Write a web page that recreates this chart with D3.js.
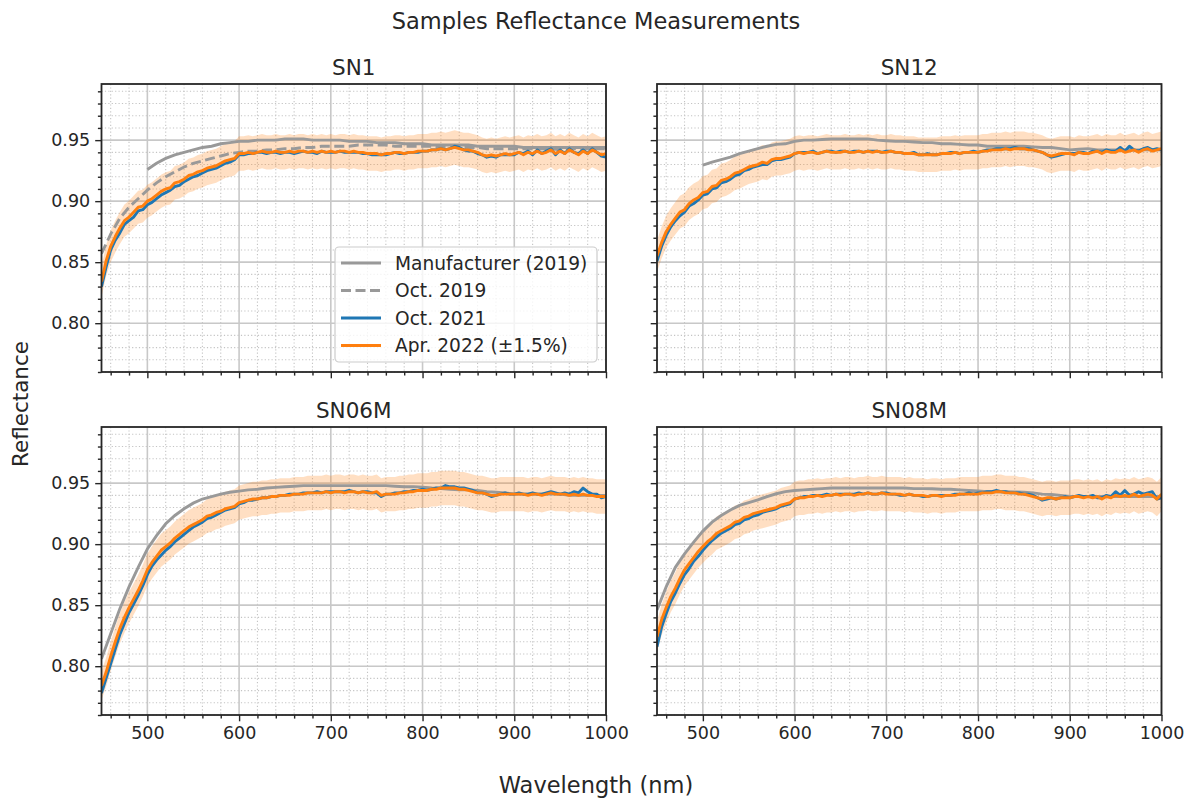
<!DOCTYPE html>
<html>
<head>
<meta charset="utf-8">
<script src="https://cdn.jsdelivr.net/npm/d3@7"></script>
<style>
  body { margin: 0; background: #fff; }
  svg { display: block; font-family: "DejaVu Sans", sans-serif; }
</style>
</head>
<body>
<div id="chart"></div>
<script>
/* Samples reflectance — 2x2 panels, D3 v7 */

const PANELS = ['SN1', 'SN12', 'SN06M', 'SN08M'];
const X_TICKS = [500, 600, 700, 800, 900, 1000];
const Y_TICKS = [0.80, 0.85, 0.90, 0.95];
const LEGEND = ['Manufacturer (2019)', 'Oct. 2019', 'Oct. 2021', 'Apr. 2022 (±1.5%)'];
const BAND = 0.015;   // ±1.5% around Apr. 2022

// measured spectra: 450..1000 nm every 5 nm
const SN1_OCT21 = [
  .830, .846, .860, .868, .874, .881, .884, .887, .892, .893,
  .897, .899, .902, .905, .907, .909, .912, .913, .916, .918,
  .920, .921, .923, .925, .926, .927, .929, .931, .932, .934,
  .938, .938, .939, .939, .940, .940, .939, .940, .940, .939,
  .940, .940, .939, .940, .941, .940, .940, .939, .941, .940,
  .940, .940, .941, .940, .940, .940, .940, .939, .939, .938,
  .938, .938, .938, .939, .940, .939, .939, .940, .940, .940,
  .941, .941, .942, .942, .943, .942, .943, .945, .944, .942,
  .941, .941, .939, .938, .936, .937, .936, .938, .938, .938,
  .938, .940, .939, .941, .938, .942, .939, .941, .943, .938,
  .942, .939, .943, .940, .939, .942, .939, .943, .940, .937,
  .936
];
const SN1_APR22 = [
  .834, .851, .863, .871, .878, .884, .887, .891, .895, .896,
  .900, .902, .905, .908, .910, .911, .915, .916, .918, .921,
  .922, .924, .925, .927, .928, .929, .931, .933, .934, .935,
  .939, .939, .940, .939, .940, .941, .940, .940, .941, .940,
  .940, .941, .940, .941, .941, .940, .941, .940, .941, .940,
  .941, .940, .941, .941, .940, .941, .940, .940, .939, .939,
  .939, .938, .939, .939, .940, .940, .939, .940, .940, .941,
  .941, .941, .942, .942, .943, .942, .943, .944, .943, .942,
  .942, .941, .940, .938, .937, .938, .937, .938, .939, .938,
  .939, .940, .938, .940, .939, .941, .939, .940, .942, .939,
  .941, .939, .942, .940, .938, .941, .939, .942, .940, .938,
  .939
];
const SN12_OCT21 = [
  .851, .863, .872, .879, .884, .888, .891, .896, .898, .901,
  .905, .906, .910, .911, .915, .916, .918, .921, .922, .925,
  .926, .928, .929, .930, .930, .933, .934, .934, .935, .936,
  .939, .940, .940, .940, .941, .939, .940, .941, .941, .940,
  .941, .941, .940, .941, .941, .940, .941, .941, .941, .940,
  .941, .941, .940, .940, .939, .939, .940, .938, .938, .939,
  .938, .938, .939, .939, .940, .940, .939, .940, .940, .941,
  .940, .941, .942, .942, .943, .943, .943, .943, .944, .943,
  .943, .943, .942, .941, .940, .938, .936, .937, .938, .939,
  .939, .939, .940, .940, .939, .941, .941, .940, .942, .941,
  .941, .944, .941, .945, .942, .941, .943, .944, .942, .943,
  .942
];
const SN12_APR22 = [
  .855, .866, .875, .881, .886, .891, .893, .898, .901, .903,
  .907, .908, .912, .913, .917, .918, .920, .923, .924, .926,
  .928, .929, .930, .932, .931, .934, .935, .935, .936, .937,
  .939, .940, .939, .940, .940, .939, .940, .941, .940, .940,
  .940, .941, .940, .940, .941, .940, .941, .940, .941, .940,
  .940, .941, .940, .940, .939, .939, .939, .938, .938, .938,
  .938, .938, .939, .939, .939, .940, .939, .940, .940, .940,
  .940, .941, .941, .942, .942, .942, .943, .942, .943, .943,
  .943, .942, .942, .941, .940, .938, .937, .938, .939, .939,
  .939, .938, .940, .939, .939, .940, .941, .939, .941, .940,
  .940, .942, .940, .941, .942, .940, .942, .943, .941, .942,
  .943
];
const SN06M_OCT21 = [
  .778, .790, .802, .814, .826, .835, .844, .851, .858, .866,
  .875, .882, .887, .891, .895, .898, .902, .905, .908, .911,
  .914, .916, .918, .921, .922, .924, .926, .928, .929, .930,
  .933, .934, .936, .936, .937, .938, .938, .939, .939, .940,
  .940, .941, .941, .941, .942, .942, .942, .943, .942, .943,
  .943, .943, .943, .943, .944, .943, .942, .943, .943, .942,
  .942, .939, .941, .941, .942, .942, .943, .943, .944, .944,
  .945, .944, .945, .946, .946, .948, .947, .947, .946, .946,
  .945, .944, .942, .942, .941, .939, .940, .941, .942, .941,
  .941, .942, .941, .941, .942, .941, .941, .942, .943, .942,
  .941, .942, .941, .943, .942, .946, .943, .941, .941, .938,
  .939
];
const SN06M_APR22 = [
  .784, .795, .808, .820, .831, .840, .848, .855, .862, .870,
  .879, .885, .890, .895, .898, .901, .905, .908, .911, .914,
  .916, .918, .920, .923, .924, .926, .927, .929, .930, .931,
  .934, .935, .936, .937, .937, .938, .938, .939, .939, .940,
  .940, .940, .941, .941, .941, .942, .942, .942, .942, .943,
  .942, .943, .943, .942, .943, .943, .942, .943, .942, .942,
  .943, .940, .941, .941, .941, .942, .942, .943, .943, .944,
  .944, .944, .945, .945, .946, .946, .946, .946, .945, .945,
  .944, .943, .942, .942, .941, .940, .940, .941, .941, .941,
  .941, .941, .941, .940, .941, .941, .940, .941, .942, .941,
  .941, .941, .940, .941, .940, .941, .940, .940, .939, .939,
  .939
];
const SN08M_OCT21 = [
  .816, .832, .843, .853, .860, .868, .875, .880, .886, .890,
  .895, .899, .903, .906, .909, .911, .913, .916, .917, .920,
  .921, .923, .924, .926, .927, .928, .929, .931, .932, .933,
  .937, .938, .939, .939, .940, .940, .940, .941, .940, .941,
  .941, .941, .941, .941, .942, .941, .942, .941, .941, .942,
  .942, .941, .941, .940, .940, .941, .940, .940, .939, .939,
  .940, .940, .940, .940, .940, .941, .941, .941, .942, .941,
  .942, .942, .943, .943, .944, .943, .943, .942, .942, .942,
  .941, .941, .940, .938, .936, .937, .938, .937, .938, .939,
  .938, .939, .940, .939, .939, .940, .938, .938, .940, .939,
  .943, .940, .944, .940, .941, .943, .941, .942, .943, .937,
  .938
];
const SN08M_APR22 = [
  .824, .838, .848, .857, .864, .872, .879, .884, .889, .894,
  .898, .902, .905, .909, .911, .913, .915, .918, .919, .922,
  .923, .925, .926, .927, .928, .929, .930, .932, .933, .934,
  .937, .938, .938, .939, .939, .940, .939, .940, .940, .941,
  .940, .941, .941, .940, .941, .941, .942, .941, .941, .942,
  .941, .941, .941, .941, .940, .941, .940, .940, .940, .939,
  .940, .940, .939, .940, .940, .940, .941, .941, .941, .941,
  .941, .942, .942, .942, .943, .943, .942, .942, .942, .941,
  .941, .940, .939, .938, .937, .938, .938, .937, .938, .938,
  .938, .939, .939, .938, .939, .938, .939, .937, .939, .938,
  .940, .939, .940, .939, .941, .939, .940, .941, .940, .937,
  .941
];

// Oct. 2019 (SN1 only): 450..1000 nm every 10 nm
const SN1_OCT19 = [
  .857, .873, .886, .895, .902, .909, .915, .920, .924, .928,
  .931, .933, .935, .937, .939, .940, .941, .941, .942, .942,
  .943, .943, .944, .944, .945, .945, .945, .945, .946, .946,
  .946, .946, .945, .945, .945, .945, .945, .944, .944, .944,
  .944, .944, .943, .943, .943, .943, .943, .943, .943, .943,
  .942, .943, .943, .943, .943, .943
];

// manufacturer curves, every 10 nm (SN1/SN12 from 500 nm, SN06M/SN08M from 450 nm)
const SN1_MFR = [
  .926, .931, .935, .938, .940, .942, .944, .945, .947, .948,
  .949, .949, .950, .950, .950, .951, .951, .951, .950, .950,
  .950, .950, .949, .949, .949, .948, .948, .948, .947, .947,
  .947, .946, .946, .946, .946, .946, .945, .945, .945, .945,
  .945, .944, .944, .944, .944, .944, .944, .944, .944, .944,
  .944
];
const SN12_MFR = [
  .9295, .932, .934, .936, .939, .941, .943, .945, .9465, .947,
  .949, .950, .950, .9505, .951, .951, .951, .951, .951, .950,
  .9495, .949, .949, .9485, .948, .948, .947, .947, .9465, .946,
  .946, .945, .945, .945, .945, .945, .9445, .944, .944, .943,
  .942, .9425, .943, .942, .942, .942, .942, .942, .942, .942,
  .942
];
const SN06M_MFR = [
  .806, .8265, .847, .865, .881, .896, .907, .9167, .9235, .929,
  .9336, .937, .939, .941, .9425, .9435, .9445, .945, .946, .9465,
  .947, .9475, .948, .948, .948, .948, .948, .948, .948, .948,
  .948, .948, .9475, .947, .947, .9467, .946, .9455, .945, .9445,
  .9445, .944, .943, .9425, .942, .941, .941, .941, .941, .941,
  .941, .940, .940, .940, .940, .940
];
const SN08M_MFR = [
  .846, .865, .881, .892, .9016, .9107, .918, .9235, .928, .9317,
  .934, .9363, .939, .9413, .943, .944, .9445, .945, .9455, .946,
  .946, .946, .946, .946, .946, .946, .946, .946, .9455, .9455,
  .9454, .945, .945, .9445, .944, .9435, .943, .943, .943, .9428,
  .9426, .942, .941, .9407, .940, .939, .939, .939, .939, .939,
  .939, .939, .939, .939, .939, .939
];

const pts = (start, step, vals) => vals.map((v, i) => [start + i * step, v]);

const DATA = {
  SN1:   { mfr: pts(500, 10, SN1_MFR),   oct19: pts(450, 10, SN1_OCT19), oct21: pts(450, 5, SN1_OCT21),   apr22: pts(450, 5, SN1_APR22) },
  SN12:  { mfr: pts(500, 10, SN12_MFR),  oct21: pts(450, 5, SN12_OCT21),  apr22: pts(450, 5, SN12_APR22) },
  SN06M: { mfr: pts(450, 10, SN06M_MFR), oct21: pts(450, 5, SN06M_OCT21), apr22: pts(450, 5, SN06M_APR22) },
  SN08M: { mfr: pts(450, 10, SN08M_MFR), oct21: pts(450, 5, SN08M_OCT21), apr22: pts(450, 5, SN08M_APR22) },
};

const C = {
  gray: '#999999',
  blue: '#1f77b4',
  orange: '#ff7f0e',
  text: '#262626',
  grid: '#c8c8c8',
  minor: '#c4c4c4',
};

const W = 1188, H = 799;
const COLS = [[101.5, 606], [657, 1161.5]];
const ROWS = [[84, 372], [427, 715]];
const TICK_FS = 17.5, TITLE_FS = 21.5, LABEL_FS = 22.5;
const LW = 2.9;

const svg = d3.select('#chart').append('svg')
  .attr('width', W).attr('height', H)
  .attr('viewBox', `0 0 ${W} ${H}`);

const xMinor = d3.range(460, 1000, 20).filter(d => d % 100 !== 0);
const yMinor = d3.range(76, 100).filter(d => d % 5 !== 0).map(d => d / 100);

PANELS.forEach((name, i) => {
  const col = i % 2, row = Math.floor(i / 2);
  const [x0, x1] = COLS[col];
  const [y0, y1] = ROWS[row];
  const x = d3.scaleLinear().domain([450, 1000]).range([x0, x1]);
  const y = d3.scaleLinear().domain([0.76, 0.996]).range([y1, y0]);
  const d = DATA[name];

  const g = svg.append('g');
  const clipId = `clip-${name}`;
  svg.append('clipPath').attr('id', clipId)
    .append('rect').attr('x', x0).attr('y', y0).attr('width', x1 - x0).attr('height', y1 - y0);

  // minor grid (dotted)
  const grid = g.append('g');
  grid.selectAll('.mx').data(xMinor).join('line')
    .attr('x1', v => x(v)).attr('x2', v => x(v)).attr('y1', y0).attr('y2', y1)
    .attr('stroke', C.minor).attr('stroke-width', 1.1).attr('stroke-dasharray', '1.2,2.2');
  grid.selectAll('.my').data(yMinor).join('line')
    .attr('y1', v => y(v)).attr('y2', v => y(v)).attr('x1', x0).attr('x2', x1)
    .attr('stroke', C.minor).attr('stroke-width', 1.1).attr('stroke-dasharray', '1.2,2.2');
  // major grid
  grid.selectAll('.gx').data(X_TICKS).join('line')
    .attr('x1', v => x(v)).attr('x2', v => x(v)).attr('y1', y0).attr('y2', y1)
    .attr('stroke', C.grid).attr('stroke-width', 1.6);
  grid.selectAll('.gy').data(Y_TICKS).join('line')
    .attr('y1', v => y(v)).attr('y2', v => y(v)).attr('x1', x0).attr('x2', x1)
    .attr('stroke', C.grid).attr('stroke-width', 1.6);

  const plot = g.append('g').attr('clip-path', `url(#${clipId})`);
  const line = d3.line().x(p => x(p[0])).y(p => y(p[1]));
  const area = d3.area()
    .x(p => x(p[0]))
    .y0(p => y(p[1] * (1 - BAND)))
    .y1(p => y(p[1] * (1 + BAND)));

  plot.append('path').datum(d.apr22).attr('d', area)
    .attr('fill', C.orange).attr('fill-opacity', 0.25);

  plot.append('path').datum(d.mfr).attr('d', line)
    .attr('fill', 'none').attr('stroke', C.gray).attr('stroke-width', LW);
  if (d.oct19) {
    plot.append('path').datum(d.oct19).attr('d', line)
      .attr('fill', 'none').attr('stroke', C.gray).attr('stroke-width', LW)
      .attr('stroke-dasharray', '10,4.5');
  }
  plot.append('path').datum(d.oct21).attr('d', line)
    .attr('fill', 'none').attr('stroke', C.blue).attr('stroke-width', LW)
    .attr('stroke-linejoin', 'round');
  plot.append('path').datum(d.apr22).attr('d', line)
    .attr('fill', 'none').attr('stroke', C.orange).attr('stroke-width', LW)
    .attr('stroke-linejoin', 'round');

  // axes (ticks outward)
  const styleAxis = ax => {
    ax.select('.domain').remove();
    ax.selectAll('line').attr('stroke', C.text).attr('stroke-width', 1.4);
    ax.selectAll('text').attr('font-size', TICK_FS).attr('fill', C.text)
      .attr('font-family', '"DejaVu Sans", sans-serif');
  };
  g.append('g').attr('transform', `translate(0,${y1})`)
    .call(d3.axisBottom(x).tickValues(X_TICKS).tickSize(6.3).tickPadding(5)
      .tickFormat(row === 1 ? d3.format('d') : () => ''))
    .call(styleAxis);
  g.append('g').attr('transform', `translate(0,${y1})`)
    .call(d3.axisBottom(x).tickValues(xMinor).tickSize(3.6).tickFormat(() => ''))
    .call(styleAxis);
  g.append('g').attr('transform', `translate(${x0},0)`)
    .call(d3.axisLeft(y).tickValues(Y_TICKS).tickSize(6.3).tickPadding(5)
      .tickFormat(col === 0 ? d3.format('.2f') : () => ''))
    .call(styleAxis);
  g.append('g').attr('transform', `translate(${x0},0)`)
    .call(d3.axisLeft(y).tickValues(yMinor).tickSize(3.6).tickFormat(() => ''))
    .call(styleAxis);

  // spines
  g.append('rect')
    .attr('x', x0).attr('y', y0).attr('width', x1 - x0).attr('height', y1 - y0)
    .attr('fill', 'none').attr('stroke', C.text).attr('stroke-width', 1.8);

  g.append('text')
    .attr('x', (x0 + x1) / 2).attr('y', y0 - 9)
    .attr('text-anchor', 'middle')
    .attr('font-size', TITLE_FS).attr('fill', C.text)
    .text(name);

  // legend in first panel
  if (i === 0) {
    const lx = 335, ly = 247, lw = 262, lh = 115;
    const leg = g.append('g');
    leg.append('rect')
      .attr('x', lx).attr('y', ly).attr('width', lw).attr('height', lh)
      .attr('rx', 4).attr('fill', '#fff').attr('fill-opacity', 0.8)
      .attr('stroke', '#cccccc').attr('stroke-width', 1.2);
    const styles = [
      { c: C.gray, dash: null },
      { c: C.gray, dash: '10,4.5' },
      { c: C.blue, dash: null },
      { c: C.orange, dash: null },
    ];
    LEGEND.forEach((label, k) => {
      const cy = ly + 16 + k * 27.5;
      leg.append('line')
        .attr('x1', lx + 6).attr('x2', lx + 46).attr('y1', cy).attr('y2', cy)
        .attr('stroke', styles[k].c).attr('stroke-width', LW)
        .attr('stroke-dasharray', styles[k].dash);
      leg.append('text')
        .attr('x', lx + 60).attr('y', cy).attr('dy', '0.36em')
        .attr('font-size', 18.6).attr('fill', C.text)
        .text(label);
    });
  }
});

svg.append('text')
  .attr('x', 596).attr('y', 29)
  .attr('text-anchor', 'middle')
  .attr('font-size', LABEL_FS).attr('fill', C.text)
  .text('Samples Reflectance Measurements');

svg.append('text')
  .attr('x', 596).attr('y', 793)
  .attr('text-anchor', 'middle')
  .attr('font-size', LABEL_FS).attr('fill', C.text)
  .text('Wavelength (nm)');

svg.append('text')
  .attr('transform', 'translate(28,404) rotate(-90)')
  .attr('text-anchor', 'middle')
  .attr('font-size', TITLE_FS).attr('fill', C.text)
  .text('Reflectance');
</script>
</body>
</html>
